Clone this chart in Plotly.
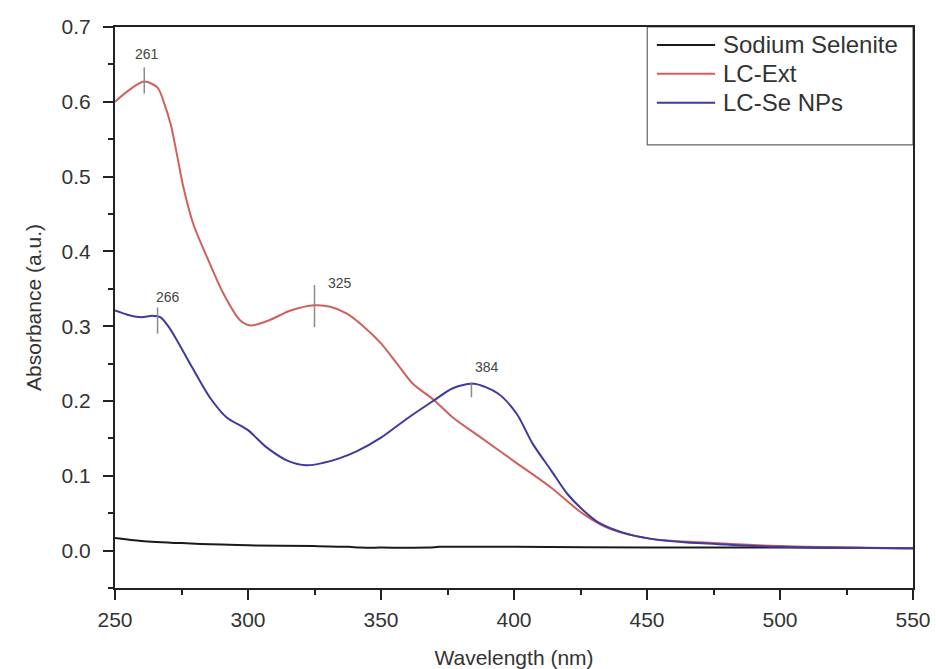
import plotly.graph_objects as go

# ---- data ----
sel_x = [250, 260, 275, 290, 300, 325, 338, 342, 350, 368, 372, 380, 400, 450, 500, 550]
sel_y = [0.017, 0.013, 0.010, 0.008, 0.007, 0.006, 0.005, 0.004, 0.004, 0.004, 0.005, 0.005, 0.005, 0.004, 0.004, 0.003]

ext_x = [250, 255, 261, 266, 268.5, 271, 273.2, 275.7, 279.4, 284.5, 290.7, 297, 301, 308, 316, 325,
         331, 337, 343, 350, 356, 362, 370, 377, 388, 401, 414, 426, 436, 451, 470, 500, 550]
ext_y = [0.600, 0.615, 0.627, 0.619, 0.598, 0.569, 0.531, 0.486, 0.437, 0.393, 0.344, 0.308, 0.301, 0.308,
         0.321, 0.328, 0.326, 0.317, 0.301, 0.277, 0.250, 0.223, 0.201, 0.178, 0.150, 0.117, 0.084, 0.049,
         0.029, 0.016, 0.011, 0.006, 0.003]

np_x = [250, 255, 260, 264, 267, 270, 273, 279, 286, 292, 300, 307, 315, 322, 328, 334, 341, 350, 360,
        370, 377, 385, 394, 401, 407, 414, 420, 426, 432, 441, 451, 464, 480, 500, 550]
np_y = [0.321, 0.315, 0.312, 0.314, 0.312, 0.300, 0.283, 0.245, 0.203, 0.178, 0.161, 0.138, 0.120, 0.114,
        0.117, 0.123, 0.133, 0.151, 0.177, 0.201, 0.217, 0.223, 0.210, 0.183, 0.143, 0.107, 0.076, 0.054,
        0.037, 0.024, 0.016, 0.011, 0.008, 0.005, 0.003]

peak_nm = [261, 266, 325, 384]
peak_lo = [0.611, 0.290, 0.299, 0.205]
peak_hi = [0.646, 0.325, 0.355, 0.225]
peak_label_dx = [3, 10, 25, 16]
peak_label_dy = [3, 1, -8, 5]

x_ticks = [250, 300, 350, 400, 450, 500, 550]
y_ticks = [0.0, 0.1, 0.2, 0.3, 0.4, 0.5, 0.6, 0.7]

names = ["Sodium Selenite", "LC-Ext", "LC-Se NPs"]
colors = ["#1a1a1a", "#cf615d", "#3d3aa0"]

FONT = "Liberation Sans, Arial"

fig = go.Figure()
for name, xs, ys, c in zip(names, [sel_x, ext_x, np_x], [sel_y, ext_y, np_y], colors):
    fig.add_trace(go.Scatter(x=xs, y=ys, mode="lines", name=name, showlegend=False,
                             line=dict(color=c, width=2, shape="spline", smoothing=0.8)))

for nm, lo, hi, dx, dy in zip(peak_nm, peak_lo, peak_hi, peak_label_dx, peak_label_dy):
    fig.add_shape(type="line", x0=nm, x1=nm, y0=lo, y1=hi, xref="x", yref="y",
                  line=dict(color="#8a8a8a", width=1.5))
    fig.add_annotation(x=nm, y=hi, text=str(nm), showarrow=False, xanchor="center", yanchor="bottom",
                       xshift=dx, yshift=dy, font=dict(size=14, color="#444", family=FONT))

# legend (box, line samples and names) in paper coordinates
fig.add_shape(type="rect", xref="paper", yref="paper", x0=0.667, x1=1.0, y0=0.79, y1=1.0,
              line=dict(color="#666", width=1.2), fillcolor="white", layer="below")
for i, (name, c) in enumerate(zip(names, colors)):
    yy = 0.968 - i * 0.0515
    fig.add_shape(type="line", xref="paper", yref="paper", x0=0.679, x1=0.752, y0=yy, y1=yy,
                  line=dict(color=c, width=2))
    fig.add_annotation(xref="paper", yref="paper", x=0.760, y=yy, text=name, showarrow=False,
                       xanchor="left", yanchor="middle",
                       font=dict(size=24, color="#333", family=FONT))

axis_common = dict(showline=True, linecolor="#222", linewidth=2, mirror=True, ticks="outside",
                   ticklen=10, tickwidth=1.5, tickcolor="#222", showgrid=False, zeroline=False,
                   automargin=False,
                   tickfont=dict(size=21, color="#333", family=FONT),
                   title_font=dict(size=21, color="#333", family=FONT))

fig.update_xaxes(range=[250, 550], tickvals=x_ticks, title_text="Wavelength (nm)", title_standoff=24,
                 ticklabelstandoff=2,
                 minor=dict(ticks="outside", ticklen=5, tickcolor="#222", dtick=25, tick0=250), **axis_common)
fig.update_yaxes(range=[-0.05, 0.7], tickvals=y_ticks, tickformat=".1f", title_text="Absorbance (a.u.)",
                 title_standoff=14, ticklabelstandoff=8,
                 minor=dict(ticks="outside", ticklen=5, tickcolor="#222", dtick=0.05, tick0=0), **axis_common)

fig.update_layout(
    width=936, height=669,
    margin=dict(l=115, r=23, t=27, b=81),
    plot_bgcolor="white", paper_bgcolor="white",
    showlegend=False,
    font=dict(family=FONT),
)

fig.write_html("out.html", config={"displayModeBar": False},
               post_script="document.body.style.margin='0';document.body.style.overflow='hidden';")
